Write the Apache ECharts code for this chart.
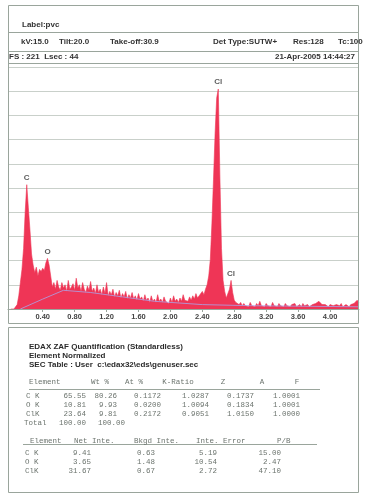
<!DOCTYPE html>
<html>
<head>
<meta charset="utf-8">
<script src="https://cdn.jsdelivr.net/npm/echarts@6/dist/echarts.min.js"></script>
<style>
html, body { margin: 0; padding: 0; background: #fff; }
#chart { width: 378px; height: 500px; }
</style>
</head>
<body>
<div id="chart"></div>
<script>
// spectrum, 20 eV channels starting at 0 keV
var channelStart = 0;
var channelStep = 0.02;
var counts = [
    0, 0, 0, 1, 4, 12, 24, 36, 55, 88,
    113, 92, 72, 50, 40, 33, 38, 30, 36, 34,
    37, 35, 42, 46, 40, 30, 20, 24, 18, 26,
    20, 17, 24, 19, 22, 16, 26, 18, 20, 23,
    17, 28, 19, 22, 16, 24, 18, 15, 21, 17,
    25, 16, 19, 14, 22, 15, 18, 13, 20, 14,
    24, 12, 16, 13, 18, 11, 15, 12, 17, 10,
    14, 11, 16, 9, 13, 10, 15, 9, 12, 8,
    14, 9, 11, 7, 13, 8, 10, 6, 12, 7,
    9, 6, 13, 7, 9, 6, 11, 7, 8, 5,
    10, 6, 12, 7, 9, 6, 10, 7, 13, 8,
    9, 7, 11, 8, 12, 9, 14, 10, 12, 11,
    16, 13, 18, 22, 30, 45, 78, 118, 160, 192,
    200, 120, 55, 26, 16, 10, 9, 18, 26, 15,
    8, 6, 5, 4, 6, 3, 5, 3, 4, 2,
    6, 3, 4, 2, 5, 3, 7, 3, 4, 2,
    5, 3, 4, 2, 6, 3, 3, 2, 5, 3,
    4, 2, 5, 3, 3, 2, 4, 3, 5, 2,
    3, 4, 2, 5, 3, 3, 4, 2, 3, 4,
    3, 5, 6, 7, 6, 4, 3, 4, 3, 2,
    4, 3, 3, 2, 4, 3, 3, 5, 2, 3,
    4, 3, 2, 4, 3, 5, 4, 8, 6
];

// fitted background
var bkgEnergy = [0.12, 0.40, 0.66, 1.00, 1.40, 1.80, 2.40, 3.00, 4.36];
var bkgCounts = [0, 9, 17, 15, 11, 7, 4, 3, 2];

// peak labels
var peakNames = ['C', 'O', 'Cl', 'Cl'];
var peakEnergy = [0.20, 0.46, 2.60, 2.76];
var peakCounts = [113, 46, 200, 26];

var tickValues = [0.4, 0.8, 1.2, 1.6, 2.0, 2.4, 2.8, 3.2, 3.6, 4.0];

var labelText = 'Label:pvc';
var infoTexts = ['kV:15.0', 'Tilt:20.0', 'Take-off:30.9', 'Det Type:SUTW+', 'Res:128', 'Tc:100'];
var fsText = 'FS : 221  Lsec : 44';
var dateText = '21-Apr-2005 14:44:27';

var quantTitle = [
    'EDAX ZAF Quantification (Standardless)',
    'Element Normalized',
    'SEC Table : User  c:\\edax32\\eds\\genuser.sec'
];
var quantHeader = ['Element', 'Wt %', 'At %', 'K-Ratio', 'Z', 'A', 'F'];
var quantRows = [
    ['C K', '65.55', '80.26', '0.1172', '1.0287', '0.1737', '1.0001'],
    ['O K', '10.81', '9.93', '0.0200', '1.0094', '0.1834', '1.0001'],
    ['ClK', '23.64', '9.81', '0.2172', '0.9051', '1.0150', '1.0000']
];
var totalRow = ['Total', '100.00', '100.00'];
var intHeader = ['Element', 'Net Inte.', 'Bkgd Inte.', 'Inte. Error', 'P/B'];
var intRows = [
    ['C K', '9.41', '0.63', '5.19', '15.00'],
    ['O K', '3.65', '1.48', '10.54', '2.47'],
    ['ClK', '31.67', '0.67', '2.72', '47.10']
];

var chart = echarts.init(document.getElementById('chart'));

var spectrum = counts.map(function(c, i) {
    return [+(channelStart + i * channelStep).toFixed(2), c];
});

var borderColor = '#9aa59c';
var headFont = 'bold 8px "Liberation Sans", Arial, sans-serif';
var monoFont = '7.5px "Liberation Mono", "DejaVu Sans Mono", monospace';
var monoColor = '#6c746e';

function txt(s, x, y, font, color, align) {
    return {
        type: 'text', x: x, y: y, z: 10, silent: true,
        style: { text: s, font: font, fill: color, align: align || 'left', verticalAlign: 'middle' }
    };
}
function hline(x1, x2, y, color) {
    return {
        type: 'line', z: 5, silent: true,
        shape: { x1: x1, y1: y, x2: x2, y2: y },
        style: { stroke: color || borderColor, lineWidth: 1 }
    };
}

var g = [];
// top panel
g.push({ type: 'rect', z: 5, silent: true, shape: { x: 8.5, y: 5.5, width: 350, height: 318 },
    style: { fill: 'none', stroke: borderColor, lineWidth: 1 } });
g.push(hline(8.5, 358.5, 32.5));
g.push(hline(8.5, 358.5, 51.5));
g.push(hline(8.5, 358.5, 63.5));
g.push(txt(labelText, 22, 25, headFont, '#333'));
var infoX = [21, 59, 110, 213, 293, 338];
infoTexts.forEach(function(s, i) {
    g.push(txt(s, infoX[i], 42, headFont, '#333'));
});
g.push(txt(fsText, 9, 57, headFont, '#333'));
g.push(txt(dateText, 355, 57, headFont, '#333', 'right'));

// bottom panel
g.push({ type: 'rect', z: 5, silent: true, shape: { x: 8.5, y: 327.5, width: 350, height: 165 },
    style: { fill: 'none', stroke: borderColor, lineWidth: 1 } });
var titleY = [347, 356, 365];
quantTitle.forEach(function(s, i) {
    g.push(txt(s, 29, titleY[i], headFont, '#2b2b2b'));
});

var qHeadX = [29, 100, 134, 178, 223, 262, 297];
quantHeader.forEach(function(s, i) {
    g.push(txt(s, qHeadX[i], 382, monoFont, monoColor, i === 0 ? 'left' : 'center'));
});
g.push(hline(29, 320, 389.5, '#9aa59c'));
var qColX = [26, 86, 117, 161, 209, 254, 300];
var qRowY = [396, 405, 414];
quantRows.forEach(function(row, r) {
    row.forEach(function(s, i) {
        g.push(txt(s, qColX[i], qRowY[r], monoFont, monoColor, i === 0 ? 'left' : 'right'));
    });
});
var totalX = [24, 86, 125];
totalRow.forEach(function(s, i) {
    g.push(txt(s, totalX[i], 423.5, monoFont, monoColor, i === 0 ? 'left' : 'right'));
});

var iHeadX = [30, 74, 134, 196, 277];
intHeader.forEach(function(s, i) {
    g.push(txt(s, iHeadX[i], 441.5, monoFont, monoColor));
});
g.push(hline(23, 317, 444.5, '#9aa59c'));
var iColX = [25, 91, 155, 217, 281];
var iRowY = [453, 462, 471];
intRows.forEach(function(row, r) {
    row.forEach(function(s, i) {
        g.push(txt(s, iColX[i], iRowY[r], monoFont, monoColor, i === 0 ? 'left' : 'right'));
    });
});

var option = {
    backgroundColor: '#fff',
    animation: false,
    grid: { left: 8, right: 19, top: 67, bottom: 191 },
    xAxis: {
        type: 'value',
        min: -0.035,
        max: 4.363,
        splitLine: { show: false },
        axisLine: { lineStyle: { color: borderColor } },
        axisTick: { show: true, customValues: tickValues, length: 3, lineStyle: { color: borderColor } },
        axisLabel: {
            customValues: tickValues,
            margin: 4,
            fontSize: 7.5,
            fontWeight: 'bold',
            fontFamily: '"Liberation Sans", Arial, sans-serif',
            color: '#444',
            formatter: function(v) { return v.toFixed(2); }
        }
    },
    yAxis: {
        type: 'value',
        min: 0,
        max: 220,
        interval: 22,
        axisLabel: { show: false },
        axisTick: { show: false },
        axisLine: { show: true, onZero: false, lineStyle: { color: borderColor } },
        splitLine: { lineStyle: { color: '#c9d0ca', width: 1 } }
    },
    series: [
        {
            type: 'line',
            data: spectrum,
            symbol: 'none',
            z: 2,
            lineStyle: { color: '#ef3556', width: 0.6 },
            areaStyle: { color: '#ef3556', opacity: 1 }
        },
        {
            type: 'line',
            data: bkgEnergy.map(function(e, i) { return [e, bkgCounts[i]]; }),
            symbol: 'none',
            z: 3,
            lineStyle: { color: '#aaa4ea', width: 0.8 }
        },
        {
            type: 'scatter',
            symbolSize: 0,
            z: 4,
            data: peakNames.map(function(n, i) { return { name: n, value: [peakEnergy[i], peakCounts[i]] }; }),
            label: {
                show: true,
                position: 'top',
                distance: 3,
                formatter: '{b}',
                fontSize: 8,
                fontWeight: 'bold',
                fontFamily: '"Liberation Sans", Arial, sans-serif',
                color: '#333'
            }
        }
    ],
    graphic: g
};
chart.setOption(option);
</script>
</body>
</html>
